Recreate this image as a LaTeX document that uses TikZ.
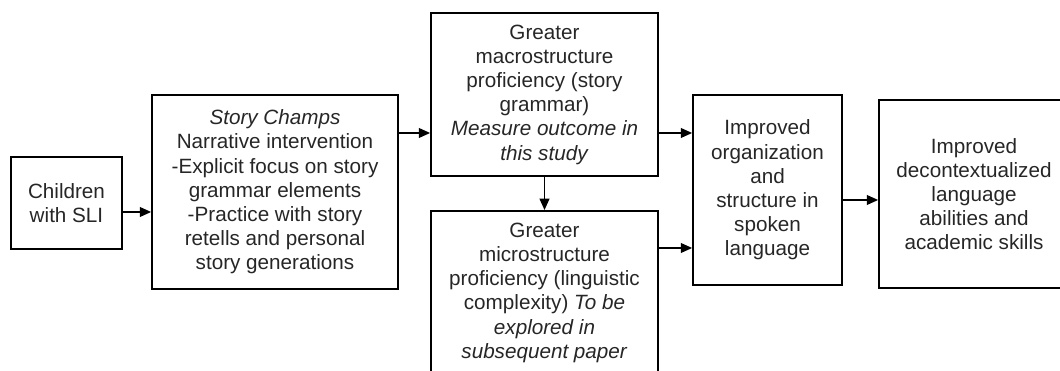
\documentclass[tikz,border=0pt]{standalone}
\usepackage{fontspec}
\setmainfont{Liberation Sans}
\usetikzlibrary{arrows.meta}

\begin{document}
\begin{tikzpicture}[thick,
	box/.style={draw,line width=1.3pt,align=center,inner sep=0pt,
		font=\fontsize{14.7}{17.2}\selectfont,text=black!85},
	arr/.style={-{Triangle[length=8pt,width=7pt]},line width=0.9pt}]
	\clip (0,0) rectangle (26.5,9.275);
	
	%BOXES
	\node[box,minimum width=2.775cm,minimum height=2.3cm] (kids) at (1.6625,4.2)
		{Children\\with SLI};
	\node[box,minimum width=6.15cm,minimum height=4.85cm] (champs) at (6.875,4.475)
		{\textit{Story Champs}\\Narrative intervention\\-Explicit focus on story\\grammar elements\\-Practice with story\\retells and personal\\story generations};
	\node[box,minimum width=5.675cm,minimum height=4.075cm] (macro) at (13.6125,6.9125)
		{Greater\\macrostructure\\proficiency (story\\grammar)\\\textit{Measure outcome in}\\\textit{this study}};
	\node[box,minimum width=5.675cm,anchor=north,inner ysep=0.3cm,text depth=1cm] (micro) at (13.6125,4.025)
		{Greater\\microstructure\\proficiency (linguistic\\complexity) \textit{To be}\\\textit{explored in}\\\textit{subsequent paper}};
	\node[box,minimum width=3.725cm,minimum height=4.75cm] (spoken) at (19.1875,4.525)
		{Improved\\organization\\and\\structure in\\spoken\\language};
	\node[box,minimum width=4.75cm,minimum height=4.7cm] (skills) at (24.35,4.425)
		{Improved\\decontextualized\\language\\abilities and\\academic skills};
	
	%ARROWS
	\draw[arr] (kids.east |- 0,3.975) -- (champs.west |- 0,3.975);
	\draw[arr] (champs.east |- 0,5.95) -- (macro.west |- 0,5.95);
	\draw[arr] (macro.south) -- (micro.north);
	\draw[arr] (macro.east |- 0,5.95) -- (spoken.west |- 0,5.95);
	\draw[arr] (micro.east |- 0,3.075) -- (spoken.west |- 0,3.075);
	\draw[arr] (spoken.east |- 0,4.275) -- (skills.west |- 0,4.275);
\end{tikzpicture}
\end{document}
